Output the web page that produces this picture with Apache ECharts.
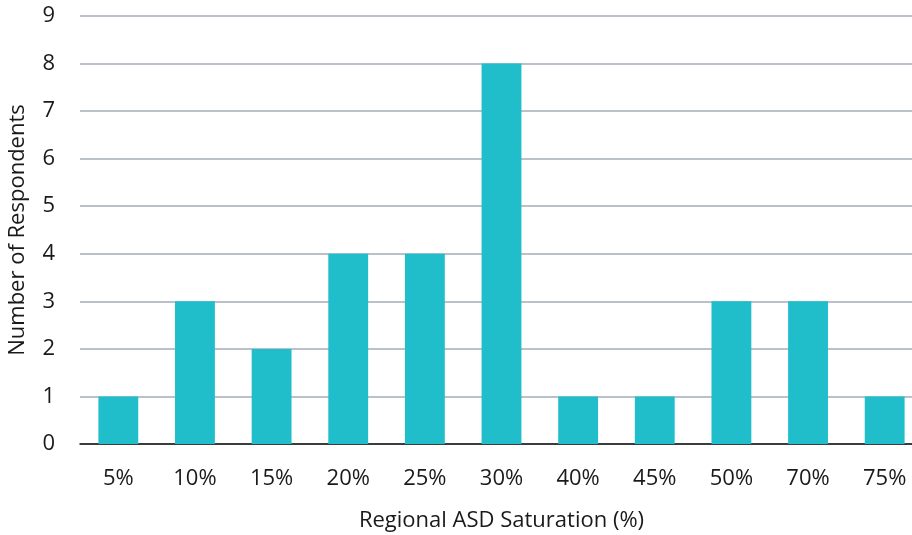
<!DOCTYPE html>
<html><head><meta charset="utf-8">
<script src="https://cdn.jsdelivr.net/npm/echarts@6/dist/echarts.min.js"></script>
<style>html,body{margin:0;padding:0;background:#fff}#c{width:912px;height:535px}</style>
</head><body><div id="c"></div>
<script>
const categories = ['5%','10%','15%','20%','25%','30%','40%','45%','50%','70%','75%'];
const respondents = [1,3,2,4,4,8,1,1,3,3,1];
const yTicks = [0,1,2,3,4,5,6,7,8,9];
const FONT = 'Open Sans';
const FS = 22;
const chart = echarts.init(document.getElementById('c'));
chart.setOption({
  animation:false,
  textStyle:{fontFamily:FONT,fontSize:FS},
  grid:{left:80,right:-11,top:16,bottom:91,containLabel:false,outerBoundsMode:'none'},
  xAxis:{type:'category',data:categories,
    name:'Regional ASD Saturation (%)',nameLocation:'middle',nameGap:66,
    nameTextStyle:{fontFamily:FONT,fontSize:FS,color:'#1a1a1a'},
    axisLine:{lineStyle:{color:'#111',width:1.5}},axisTick:{show:false},
    axisLabel:{fontFamily:FONT,fontSize:FS,color:'#1a1a1a',margin:24}},
  yAxis:{type:'value',min:0,max:9,interval:1,
    name:'Number of Respondents',nameLocation:'middle',nameGap:51,
    nameTextStyle:{fontFamily:FONT,fontSize:FS,color:'#1a1a1a'},
    axisLabel:{fontFamily:FONT,fontSize:FS,color:'#1a1a1a',margin:25,
      formatter:v=>yTicks.includes(v)?String(v):''},
    splitLine:{lineStyle:{color:'#A3ADB8',width:1.5}}},
  series:[{type:'bar',data:respondents,barWidth:'52%',itemStyle:{color:'#1FBECA'}}]
});
</script></body></html>
